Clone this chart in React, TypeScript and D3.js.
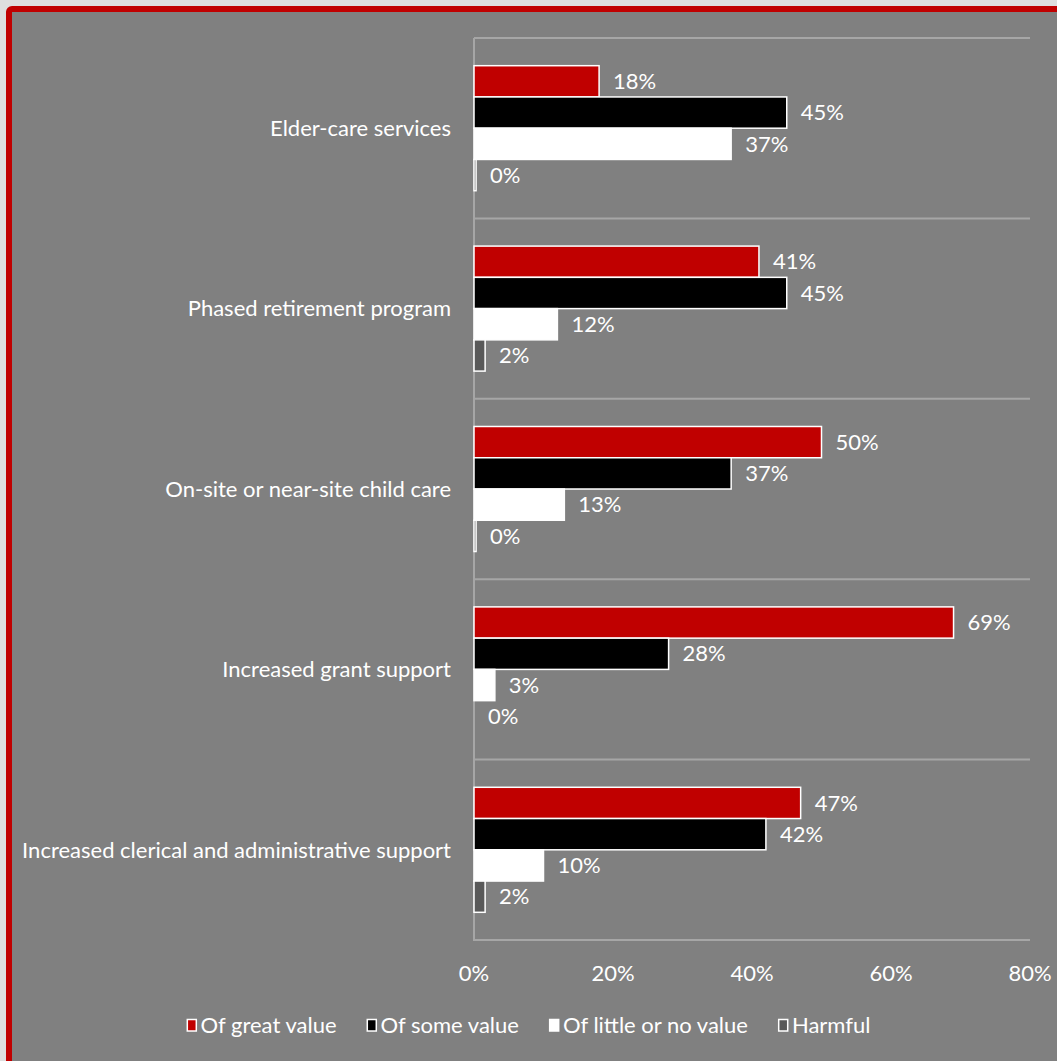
import React, { useEffect, useRef } from "react";
import * as d3 from "d3";

const categories = [
  "Elder-care services",
  "Phased retirement program",
  "On-site or near-site child care",
  "Increased grant support",
  "Increased clerical and administrative support",
];
const seriesNames = ["Of great value", "Of some value", "Of little or no value", "Harmful"];
const greatValue = [0.18, 0.41, 0.5, 0.69, 0.47];
const someValue = [0.45, 0.45, 0.37, 0.28, 0.42];
const littleValue = [0.37, 0.12, 0.13, 0.03, 0.1];
const harmful = [0.003, 0.016, 0.003, 0, 0.016];
const xTicks = [0, 0.2, 0.4, 0.6, 0.8];
const seriesColors = ["#c00000", "#000000", "#ffffff", "#595959"];

const W = 1057;
const H = 1061;
const FONT = "Lato, 'Open Sans', sans-serif";
const FS = 22;

export default function App() {
  const ref = useRef<SVGSVGElement | null>(null);

  useEffect(() => {
    const svg = d3.select(ref.current);
    svg.selectAll("*").remove();

    svg.append("rect").attr("x", 0).attr("y", 0).attr("width", W).attr("height", H).attr("fill", "#dedede");
    svg
      .append("rect")
      .attr("x", 9)
      .attr("y", 9)
      .attr("width", W + 40)
      .attr("height", H + 40)
      .attr("rx", 3)
      .attr("fill", "#808080")
      .attr("stroke", "#c00000")
      .attr("stroke-width", 6);

    const x = d3.scaleLinear().domain([0, 0.8]).range([474, 1030]);
    const y = d3.scaleBand<string>().domain(categories).range([38, 940]).padding(0);
    const inner = d3
      .scaleBand<string>()
      .domain(seriesNames)
      .range([0, y.bandwidth()])
      .paddingInner(0)
      .paddingOuter(0.886);

    const seriesValues = [greatValue, someValue, littleValue, harmful];
    const fmt = d3.format(".0%");

    const bounds = categories.map((c) => y(c) as number).concat([940]);
    svg
      .append("g")
      .selectAll("line")
      .data(bounds)
      .join("line")
      .attr("x1", 474)
      .attr("x2", 1030)
      .attr("y1", (d) => d)
      .attr("y2", (d) => d)
      .attr("stroke", "#a6a6a6")
      .attr("stroke-width", 2);

    svg
      .append("line")
      .attr("x1", x(0))
      .attr("x2", x(0))
      .attr("y1", 38)
      .attr("y2", 941)
      .attr("stroke", "#a6a6a6")
      .attr("stroke-width", 2);

    const g = svg.append("g");
    seriesNames.forEach((s, si) => {
      const vals = seriesValues[si];
      categories.forEach((c, ci) => {
        const y0 = (y(c) as number) + (inner(s) as number);
        const v = vals[ci];
        g.append("rect")
          .attr("x", x(0))
          .attr("y", y0)
          .attr("width", x(v) - x(0))
          .attr("height", inner.bandwidth())
          .attr("fill", seriesColors[si])
          .attr("stroke", v > 0 ? "#ffffff" : "none")
          .attr("stroke-width", 1.5);
        g.append("text")
          .attr("x", x(v) + 14)
          .attr("y", y0 + inner.bandwidth() / 2)
          .attr("dy", "0.35em")
          .attr("fill", "#ffffff")
          .attr("font-family", FONT)
          .attr("font-size", FS)
          .text(fmt(Math.round(v * 100) / 100));
      });
    });

    svg
      .append("g")
      .selectAll("text")
      .data(categories)
      .join("text")
      .attr("x", 451)
      .attr("y", (d) => (y(d) as number) + y.bandwidth() / 2)
      .attr("dy", "0.35em")
      .attr("text-anchor", "end")
      .attr("fill", "#ffffff")
      .attr("font-family", FONT)
      .attr("font-size", FS)
      .text((d) => d);

    svg
      .append("g")
      .selectAll("text")
      .data(xTicks)
      .join("text")
      .attr("x", (d) => x(d))
      .attr("y", 973)
      .attr("dy", "0.35em")
      .attr("text-anchor", "middle")
      .attr("fill", "#ffffff")
      .attr("font-family", FONT)
      .attr("font-size", FS)
      .text((d) => d3.format(".0%")(d));

    // legend, laid out then centred
    const lg = svg.append("g");
    let lx = 0;
    const gapItem = 30;
    seriesNames.forEach((s, si) => {
      lg.append("rect")
        .attr("x", lx + 0.75)
        .attr("y", 1019.5)
        .attr("width", 9)
        .attr("height", 11.5)
        .attr("fill", seriesColors[si])
        .attr("stroke", "#ffffff")
        .attr("stroke-width", 1.5);
      const t = lg
        .append("text")
        .attr("x", lx + 14)
        .attr("y", 1025.5)
        .attr("dy", "0.35em")
        .attr("fill", "#ffffff")
        .attr("font-family", FONT)
        .attr("font-size", FS)
        .text(s);
      const w = (t.node() as SVGTextElement).getComputedTextLength();
      lx = lx + 14 + w + gapItem;
    });
    const total = lx - gapItem;
    lg.attr("transform", `translate(${W / 2 - total / 2},0)`);
  }, []);

  return (
    <div style={{ position: "absolute", left: 0, top: 0, width: W, height: H, overflow: "hidden" }}>
      <svg ref={ref} width={W} height={H} style={{ display: "block" }} />
    </div>
  );
}
